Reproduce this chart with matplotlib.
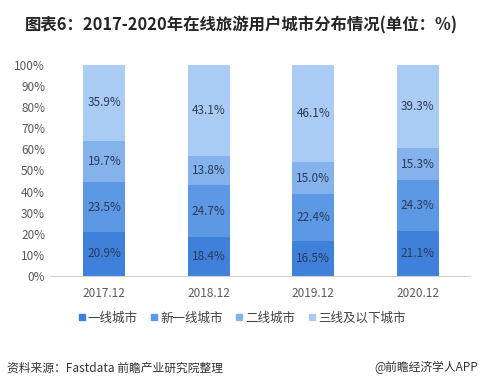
import matplotlib
matplotlib.use("Agg")
from matplotlib import pyplot as plt
from matplotlib.lines import Line2D

plt.rcParams['font.family'] = ['Noto Sans CJK SC', 'DejaVu Sans']

years = ["2017.12", "2018.12", "2019.12", "2020.12"]
tier1 = [20.9, 18.4, 16.5, 21.1]
new_tier1 = [23.5, 24.7, 22.4, 24.3]
tier2 = [19.7, 13.8, 15.0, 15.3]
tier3_below = [35.9, 43.1, 46.1, 39.3]
series_names = ["一线城市", "新一线城市", "二线城市", "三线及以下城市"]
colors = ["#3F80DB", "#5C98E4", "#83B2EC", "#AACCF4"]

fig = plt.figure(figsize=(4.83, 3.88), dpi=100)
ax = fig.add_axes([0.1035, 0.2887, 0.8695, 0.5438])

x = list(range(len(years)))
bottom = [0, 0, 0, 0]
for vals, c in zip([tier1, new_tier1, tier2, tier3_below], colors):
    ax.bar(x, vals, 0.4, bottom=bottom, color=c)
    for i, v in enumerate(vals):
        ax.text(i, bottom[i] + v / 2, "%.1f%%" % v, ha="center", va="center",
                fontsize=8.5, color="#2B3A55")
    bottom = [b + v for b, v in zip(bottom, vals)]

ax.set_xlim(-0.52, 3.5)
ax.set_ylim(0, 100)
ax.set_yticks(range(0, 101, 10))
ax.set_yticklabels(["%d%%" % t for t in range(0, 101, 10)])
ax.set_xticks(x)
ax.set_xticklabels(years)
ax.tick_params(axis="both", length=0, labelsize=8.5, colors="#595959")
ax.tick_params(axis="x", pad=8)
for s in ["top", "right", "left"]:
    ax.spines[s].set_visible(False)
ax.spines["bottom"].set_color("#D0D0D0")

handles = [Line2D([], [], marker="s", linestyle="none", markersize=5, color=c) for c in colors]
fig.legend(handles, series_names, loc="center", bbox_to_anchor=(0.5, 0.18), ncol=4,
           frameon=False, fontsize=9, handlelength=0.6, handletextpad=0.2,
           columnspacing=1.0, labelcolor="#404040")

fig.text(0.5, 0.935, "图表6：2017-2020年在线旅游用户城市分布情况(单位：%)", ha="center",
         va="center", fontsize=11.8, fontweight="bold", color="#262626")
fig.text(0.015, 0.052, "资料来源：Fastdata 前瞻产业研究院整理", ha="left", va="center",
         fontsize=8.5, color="#333333")
fig.text(0.99, 0.052, "@前瞻经济学人APP", ha="right", va="center",
         fontsize=8.5, color="#333333")

fig.savefig("out.png", dpi=100)
